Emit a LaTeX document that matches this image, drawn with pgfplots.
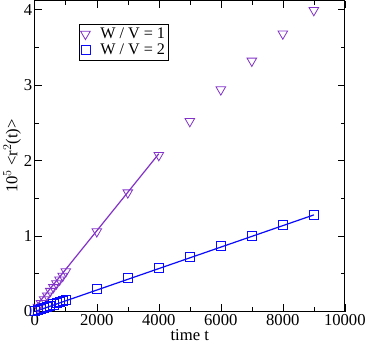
\documentclass[border=0pt]{standalone}
\usepackage{fontspec}
\setmainfont{Liberation Serif}
\usepackage{pgfplots}
\pgfplotsset{compat=1.18}
\definecolor{wvone}{RGB}{130,50,200}
\definecolor{wvtwo}{RGB}{10,10,255}
\begin{document}
\begin{tikzpicture}
\begin{axis}[
  width=306bp, height=307bp,
  scale only axis,
  xmin=0, xmax=10000,
  ymin=0, ymax=4.12,
  xtick={0,2000,...,10000},
  ytick={0,1,2,3,4},
  minor xtick={1000,3000,...,9000},
  minor ytick={0.5,1.5,2.5,3.5},
  tick align=inside,
  major tick length=7bp,
  minor tick length=4bp,
  tick style={black, line width=0.6pt},
  axis line style={line width=1pt},
  scaled x ticks=false,
  /pgf/number format/assume math mode=true,
  xticklabel style={/pgf/number format/1000 sep={}, yshift=1bp},
  yticklabel style={xshift=1bp},
  tick label style={font=\fontsize{16.5}{18}\selectfont},
  label style={font=\fontsize{16.5}{18}\selectfont},
  xlabel={time t},
  ylabel={10$^{5}$ <r$^{2}$(t)>},
  xlabel style={yshift=3bp},
  ylabel style={yshift=-4bp},
  legend style={at={(0.142,0.924)}, anchor=north west, draw=black, line width=0.6pt,
    font=\fontsize{16}{16}\selectfont, inner sep=1.5pt, row sep=0pt},
  legend cell align=left,
]
\addplot[wvone, only marks, mark=triangle, mark size=5.5pt, mark options={rotate=180, line width=0.8pt}] coordinates {
(100,0.06) (200,0.11) (300,0.16) (400,0.21) (500,0.27) (600,0.32) (700,0.37) (800,0.42) (900,0.47) (1000,0.53)
(2000,1.06) (3000,1.575) (4000,2.07) (5000,2.52) (6000,2.94) (7000,3.32) (8000,3.68) (9000,3.99)};
\addlegendentry{~~W / V = 1~}
\addplot[wvtwo, only marks, mark=square, mark size=4.5pt, mark options={line width=0.8pt}] coordinates {
(0,0.005) (100,0.02) (200,0.035) (300,0.05) (400,0.065) (500,0.08) (600,0.095) (700,0.11) (800,0.125) (900,0.14) (1000,0.157)
(2000,0.30) (3000,0.447) (4000,0.58) (5000,0.725) (6000,0.868) (7000,1.0) (8000,1.145) (9000,1.28)};
\addlegendentry{~~W / V = 2~}
\addplot[wvone, line width=1.2pt, mark=none, forget plot] coordinates {(0,0.05) (4000,2.09)};
\addplot[wvtwo, line width=1.2pt, mark=none, forget plot] coordinates {(0,0.0) (9000,1.28)};
\end{axis}
\end{tikzpicture}
\end{document}
